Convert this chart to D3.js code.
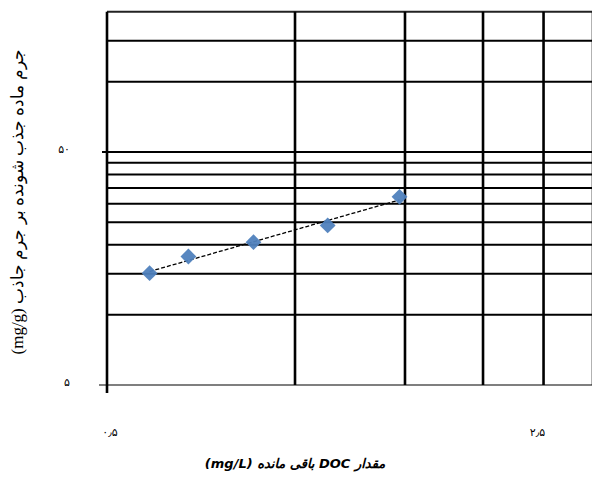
<!DOCTYPE html>
<html>
<head>
<meta charset="utf-8">
<script src="https://cdn.jsdelivr.net/npm/d3@7"></script>
<style>
  body { margin: 0; background: #fff; }
  svg { display: block; }
</style>
</head>
<body>
<div id="chart"></div>
<script>
// residual DOC (mg/L) vs adsorbed per adsorbent mass (mg/g)
const ce = [0.585, 0.675, 0.858, 1.128, 1.47];
const qe = [15.1, 17.8, 20.5, 24.2, 32.1];

const xGrid = [0.5, 1, 1.5, 2, 2.5, 3];
const yGrid = [10, 15, 20, 25, 30, 35, 40, 45, 50, 100, 150, 200];
const xTicks = [0.5, 2.5];
const xTickLabels = ["۰٫۵", "۲٫۵"];
const yTicks = [5, 50];
const yTickLabels = ["۵", "۵۰"];

const width = 592, height = 477;

const x = d3.scaleLog().domain([0.5, 3]).range([107, 593]);
const y = d3.scaleLog().domain([5, 200]).range([385, 11.7]);

const svg = d3.select("#chart").append("svg")
  .attr("width", width)
  .attr("height", height);

svg.append("rect").attr("width", width).attr("height", height).attr("fill", "#fff");

// horizontal grid
svg.append("g").selectAll("line")
  .data(yGrid)
  .enter().append("line")
  .attr("x1", x(0.5)).attr("x2", x(3))
  .attr("y1", d => y(d)).attr("y2", d => y(d))
  .attr("stroke", d => d === 200 ? "#222" : "#000")
  .attr("stroke-width", 2);

// vertical grid
svg.append("g").selectAll("line")
  .data(xGrid.slice(1))
  .enter().append("line")
  .attr("x1", d => x(d)).attr("x2", d => x(d))
  .attr("y1", y(200)).attr("y2", y(5))
  .attr("stroke", "#000")
  .attr("stroke-width", 2.6);

// axes
svg.append("line")
  .attr("x1", x(0.5) - 8).attr("x2", x(3))
  .attr("y1", y(5)).attr("y2", y(5))
  .attr("stroke", "#000").attr("stroke-width", 1.2);
svg.append("line")
  .attr("x1", x(0.5)).attr("x2", x(0.5))
  .attr("y1", y(200)).attr("y2", y(5) + 8)
  .attr("stroke", "#000").attr("stroke-width", 2.6);
svg.append("line")
  .attr("x1", x(0.5) - 5).attr("x2", x(0.5))
  .attr("y1", y(50)).attr("y2", y(50))
  .attr("stroke", "#000").attr("stroke-width", 2);

// tick labels
svg.append("g").selectAll("text")
  .data(yTicks)
  .enter().append("text")
  .attr("x", 70)
  .attr("y", d => y(d))
  .attr("dy", "0.1em")
  .attr("text-anchor", "end")
  .style("font-family", "DejaVu Sans")
  .style("font-size", "11px")
  .text((d, i) => yTickLabels[i]);

svg.append("g").selectAll("text")
  .data(xTicks)
  .enter().append("text")
  .attr("x", (d, i) => x(d) + (i === 0 ? 3 : -6))
  .attr("y", 436)
  .attr("text-anchor", "middle")
  .style("font-family", "DejaVu Sans")
  .style("font-size", "11px")
  .text((d, i) => xTickLabels[i]);

// power trendline fitted in log-log space
const lx = ce.map(Math.log), ly = qe.map(Math.log);
const mx = d3.mean(lx), my = d3.mean(ly);
const b = d3.sum(lx, (v, i) => (v - mx) * (ly[i] - my)) / d3.sum(lx, v => (v - mx) * (v - mx));
const a = Math.exp(my - b * mx);
const trendX = d3.range(0, 41).map(i => d3.min(ce) * Math.pow(d3.max(ce) / d3.min(ce), i / 40));

svg.append("path")
  .datum(trendX)
  .attr("fill", "none")
  .attr("stroke", "#000")
  .attr("stroke-width", 1.3)
  .attr("stroke-dasharray", "4,2")
  .attr("d", d3.line().x(d => x(d)).y(d => y(a * Math.pow(d, b))));

// markers (square diamonds, like excel)
svg.append("g").selectAll("path")
  .data(ce)
  .enter().append("path")
  .attr("transform", (d, i) => "translate(" + x(d) + "," + y(qe[i]) + ") rotate(45)")
  .attr("d", d3.symbol().type(d3.symbolSquare).size(125))
  .attr("fill", "#4F81BD")
  .attr("opacity", 0.95);

// axis titles
svg.append("text")
  .attr("x", 295)
  .attr("y", 468)
  .attr("text-anchor", "middle")
  .attr("direction", "rtl")
  .style("font-family", "DejaVu Sans")
  .style("font-size", "13px")
  .style("font-weight", "bold")
  .style("font-style", "italic")
  .text("مقدار  DOC باقی مانده (mg/L)");

svg.append("text")
  .attr("transform", "translate(23,202) rotate(-90)")
  .attr("text-anchor", "middle")
  .attr("direction", "rtl")
  .style("font-family", "Liberation Serif, DejaVu Sans")
  .style("font-size", "17px")
  .style("font-weight", "300")
  .text("جرم ماده جذب شونده بر جرم جاذب (mg/g)");
</script>
</body>
</html>
